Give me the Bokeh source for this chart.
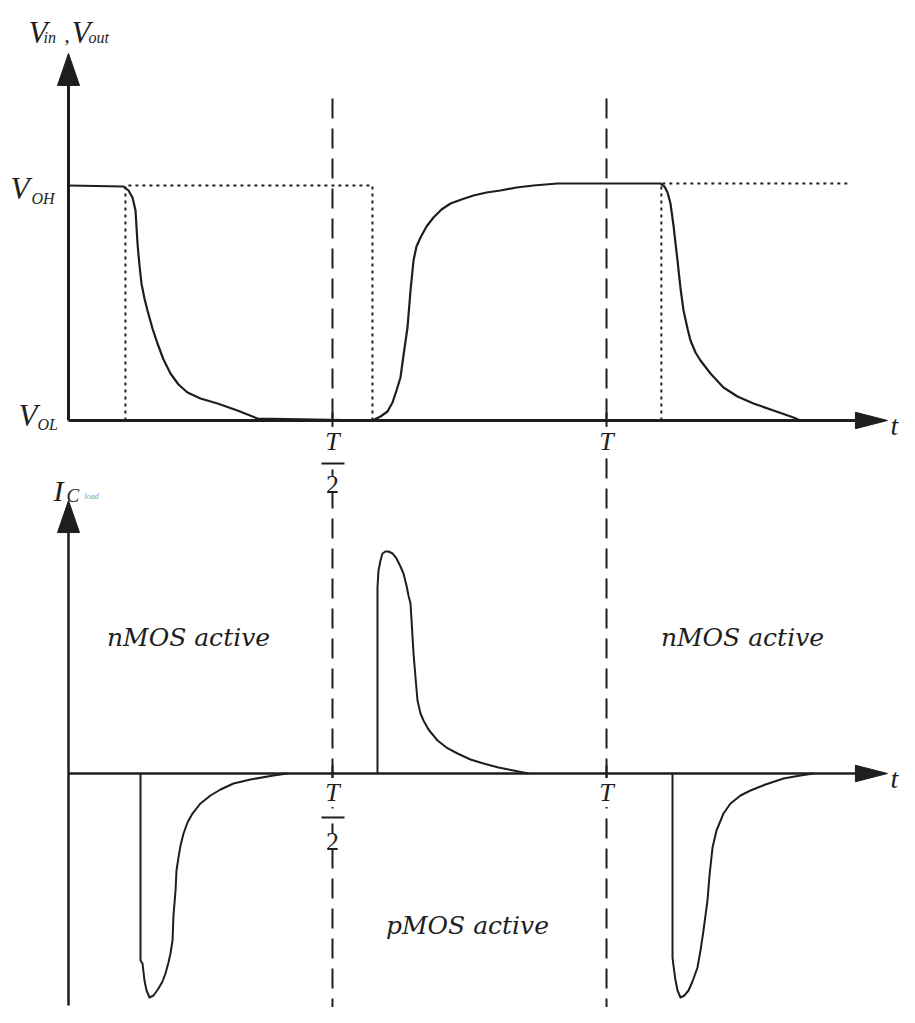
from bokeh.plotting import figure
from bokeh.models import Range1d
from bokeh.core.properties import value
from bokeh.embed import file_html
from bokeh.resources import INLINE

# ---------------- data (time in units of the period T) ----------------
# output voltage, normalised: V_OL = 0, V_OH = 1
vout_t = [0.0, 0.1024, 0.1117, 0.1192, 0.1248, 0.1285, 0.1322, 0.1359, 0.1415, 0.1471, 0.1564,
          0.1657, 0.1769, 0.1899, 0.2048, 0.2216, 0.2458, 0.2775, 0.3147, 0.3520,
          0.5661, 0.5810, 0.5940, 0.6034, 0.6108, 0.6182, 0.6238, 0.6313, 0.6369, 0.6425, 0.6480,
          0.6555, 0.6667, 0.6797, 0.6946, 0.7114, 0.7318, 0.7542, 0.7784, 0.8045, 0.8343, 0.8659,
          0.9106, 1.0037,
          1.1024, 1.1099, 1.1155, 1.1210, 1.1266, 1.1304, 1.1341, 1.1397, 1.1453, 1.1527, 1.1583,
          1.1676, 1.1769, 1.1955, 1.2197, 1.2458, 1.2756, 1.3128, 1.3501, 1.3631]
vout_v = [1.0, 0.9957, 0.9787, 0.9489, 0.8936, 0.7532, 0.6596, 0.5830, 0.5191, 0.4681, 0.3915,
          0.3277, 0.2596, 0.2000, 0.1532, 0.1191, 0.0936, 0.0723, 0.0426, 0.0085,
          0.0, 0.0170, 0.0383, 0.0766, 0.1277, 0.1830, 0.2766, 0.3957, 0.5532, 0.6809, 0.7404,
          0.7787, 0.8255, 0.8638, 0.8979, 0.9234, 0.9404, 0.9574, 0.9702, 0.9787, 0.9915, 1.0,
          1.0085, 1.0085,
          1.0085, 0.9957, 0.9702, 0.9234, 0.8298, 0.7532, 0.6809, 0.5617, 0.4681, 0.3915, 0.3404,
          0.2894, 0.2553, 0.2000, 0.1404, 0.1021, 0.0723, 0.0426, 0.0128, 0.0]

# input voltage (dotted step)
vin1_t = [0.106, 0.106, 0.566, 0.566]
vin1_v = [0.0, 1.0, 1.0, 0.0]
vin2_t = [1.104, 1.104, 1.451]
vin2_v = [0.0, 1.0085, 1.0085]

# load-capacitor current, normalised
i1_t = [0.1341, 0.1341, 0.1378, 0.1415, 0.1453, 0.1508, 0.1583, 0.1676, 0.1750, 0.1806, 0.1862,
        0.1899, 0.1937, 0.1955, 0.1993, 0.2011, 0.2048, 0.2086, 0.2142, 0.2216, 0.2309, 0.2458,
        0.2644, 0.2831, 0.3073, 0.3389, 0.3818, 0.4078]
i1_v = [0.0, -0.8462, -0.8597, -0.9367, -0.9819, -1.0136, -1.0045, -0.9729, -0.9412, -0.9050, -0.8552,
        -0.8145, -0.7557, -0.6425, -0.5294, -0.4389, -0.3801, -0.3258, -0.2715, -0.2217, -0.1810, -0.1357,
        -0.0995, -0.0724, -0.0452, -0.0271, -0.0090, 0.0]

i2_t = [0.5754, 0.5754, 0.5773, 0.5810, 0.5847, 0.5903, 0.5959, 0.6034, 0.6108, 0.6182, 0.6238,
        0.6294, 0.6331, 0.6369, 0.6397, 0.6425, 0.6462, 0.6499, 0.6555, 0.6611, 0.6704, 0.6872,
        0.7039, 0.7244, 0.7486, 0.7728, 0.8007, 0.8287, 0.8473, 0.8566]
i2_v = [0.0, 0.8416, 0.9186, 0.9638, 0.9955, 1.0045, 1.0045, 0.9955, 0.9729, 0.9367, 0.9050,
        0.8507, 0.8054, 0.7692, 0.6561, 0.5430, 0.4344, 0.3303, 0.2715, 0.2398, 0.1991, 0.1493,
        0.1176, 0.0905, 0.0633, 0.0452, 0.0271, 0.0136, 0.0045, 0.0]

i3_t = [1.1248, 1.1248, 1.1266, 1.1304, 1.1341, 1.1397, 1.1471, 1.1546, 1.1620, 1.1713, 1.1769,
        1.1825, 1.1862, 1.1899, 1.1937, 1.1993, 1.2067, 1.2197, 1.2328, 1.2514, 1.2700, 1.2980,
        1.3315, 1.3631, 1.3873]
i3_v = [0.0, -0.8326, -0.8688, -0.9367, -0.9819, -1.0136, -1.0045, -0.9819, -0.9412, -0.8778, -0.8009,
        -0.7104, -0.6425, -0.5747, -0.4615, -0.3348, -0.2579, -0.1810, -0.1357, -0.0995, -0.0769, -0.0498,
        -0.0226, -0.0090, 0.0]

# marked instants
mark_t = [0.4916, 1.0019]
mark_labels = ["T/2", "T"]

# axis extents
T_AXIS_END = 1.525
V_AXIS_TOP = 1.562
I_AXIS_TOP = 1.235
I_AXIS_BOTTOM = -1.05
DASH_TOP_V = 1.370

# ---------------- figure ----------------
W, H = 899, 1007
XR = (-0.12663, 1.54749)
VR = (-2.49787, 1.78723)
IR = (-1.05882, 3.49774)

p = figure(width=W, height=H, x_range=Range1d(*XR), y_range=Range1d(*VR),
           output_backend="svg", toolbar_location=None, min_border=0,
           x_axis_location=None, y_axis_location=None)
p.extra_y_ranges = {"cur": Range1d(*IR)}
p.xgrid.visible = False
p.ygrid.visible = False
p.outline_line_color = None
p.background_fill_color = "white"
p.border_fill_color = "white"

px_t = W / (XR[1] - XR[0])
px_v = H / (VR[1] - VR[0])
px_i = H / (IR[1] - IR[0])

INK = "#1e1e1e"
SERIF = value("Liberation Serif")
SERIF2 = value("DejaVu Serif")

# long dashed verticals at T/2 and T
for tm in mark_t:
    p.line([tm, tm], [DASH_TOP_V, VR[0] - 0.2], line_color=INK, line_width=2, line_dash="20 10")

# small ticks on the axes
TICK = 8
p.multi_line([[tm, tm] for tm in mark_t], [[-TICK / px_v, TICK / px_v] for _ in mark_t],
             line_color=INK, line_width=2)
p.multi_line([[tm, tm] for tm in mark_t], [[-TICK / px_i, TICK / px_i] for _ in mark_t],
             line_color=INK, line_width=2, y_range_name="cur")

# axes
HL, HW = 32, 11
p.line([0, 0], [0, V_AXIS_TOP - HL / px_v], line_color=INK, line_width=3)
p.line([0, T_AXIS_END - HL / px_t], [0, 0], line_color=INK, line_width=3)
p.line([0, 0], [I_AXIS_BOTTOM, I_AXIS_TOP - HL / px_i], line_color=INK, line_width=2.5, y_range_name="cur")
p.line([0, T_AXIS_END - HL / px_t], [0, 0], line_color=INK, line_width=2.5, y_range_name="cur")

def head_up(x, ytip, py):
    return [x - HW / px_t, x + HW / px_t, x], [ytip - HL / py, ytip - HL / py, ytip]

def head_right(xtip, y, py):
    return [xtip - HL / px_t, xtip - HL / px_t, xtip], [y - HW * 0.75 / py, y + HW * 0.75 / py, y]

hx1, hy1 = head_up(0, V_AXIS_TOP, px_v)
hx2, hy2 = head_right(T_AXIS_END, 0, px_v)
p.patches([hx1, hx2], [hy1, hy2], fill_color=INK, line_color=INK)
hx3, hy3 = head_up(0, I_AXIS_TOP, px_i)
hx4, hy4 = head_right(T_AXIS_END, 0, px_i)
p.patches([hx3, hx4], [hy3, hy4], fill_color=INK, line_color=INK, y_range_name="cur")

# input (dotted) and output voltage
p.multi_line([vin1_t, vin2_t], [vin1_v, vin2_v], line_color=INK, line_width=2, line_dash="3 4")
p.line(vout_t, vout_v, line_color=INK, line_width=2.2, line_join="round")

# current pulses
p.multi_line([i1_t, i2_t, i3_t], [i1_v, i2_v, i3_v], line_color=INK, line_width=2,
             line_join="round", y_range_name="cur")

# ---------------- texts ----------------
def tx(x, y, s, size, style="italic", align="left", base="alphabetic", color=INK, rng="default",
       bg=None, font=SERIF):
    kw = dict(x=[x], y=[y], text=[s], text_font=font, text_font_size=size,
              text_font_style=style, text_align=align, text_baseline=base, text_color=color)
    if bg is not None:
        kw["background_fill_color"] = bg
    if rng != "default":
        kw["y_range_name"] = rng
    p.text(**kw)

# V_in, V_out
tx(-0.0745, 1.651, "V", "31px")
tx(-0.0466, 1.630, "in", "16px")
tx(-0.0080, 1.640, ",", "22px")
tx(0.0056, 1.651, "V", "31px")
tx(0.0372, 1.630, "out", "16px")

# V_OH, V_OL
tx(-0.1080, 0.987, "V", "31px")
tx(-0.0689, 0.945, "OH", "16px")
tx(-0.0931, 0.021, "V", "31px")
tx(-0.0577, -0.017, "OL", "16px")

# I_Cload
tx(-0.0279, 1.281, "I", "30px", rng="cur")
tx(-0.0037, 1.258, "C", "19px", rng="cur")
tx(0.0298, 1.253, "load", "8px", color="#7f93b5", rng="cur")

# t labels
tx(1.5307, -0.021, "t", "28px")
tx(1.5307, -0.024, "t", "28px", rng="cur")

# T/2 and T marks
for rng, yT, yBar, y2 in (("default", -0.089, -0.183, -0.272), ("cur", -0.086, -0.199, -0.308)):
    tx(mark_t[0], yT, "T", "26px", align="center", base="middle", rng=rng, bg="white")
    tx(mark_t[0], y2, "2", "26px", style="normal", align="center", base="middle", rng=rng, bg="white")
    tx(mark_t[1], yT, "T", "26px", align="center", base="middle", rng=rng, bg="white")
    kw = {} if rng == "default" else {"y_range_name": rng}
    p.line([mark_t[0] - 11 / px_t, mark_t[0] + 12 / px_t], [yBar, yBar], line_color="white", line_width=12, **kw)
    p.line([mark_t[0] - 11 / px_t, mark_t[0] + 12 / px_t], [yBar, yBar], line_color=INK, line_width=2, **kw)

# region annotations
tx(0.2235, 0.615, "nMOS active", "25px", align="center", base="middle", rng="cur", font=SERIF2)
tx(1.2551, 0.615, "nMOS active", "25px", align="center", base="middle", rng="cur", font=SERIF2)
tx(0.743, -0.688, "pMOS active", "25px", align="center", base="middle", rng="cur", font=SERIF2)

open("out.html", "w").write(file_html(p, INLINE))
